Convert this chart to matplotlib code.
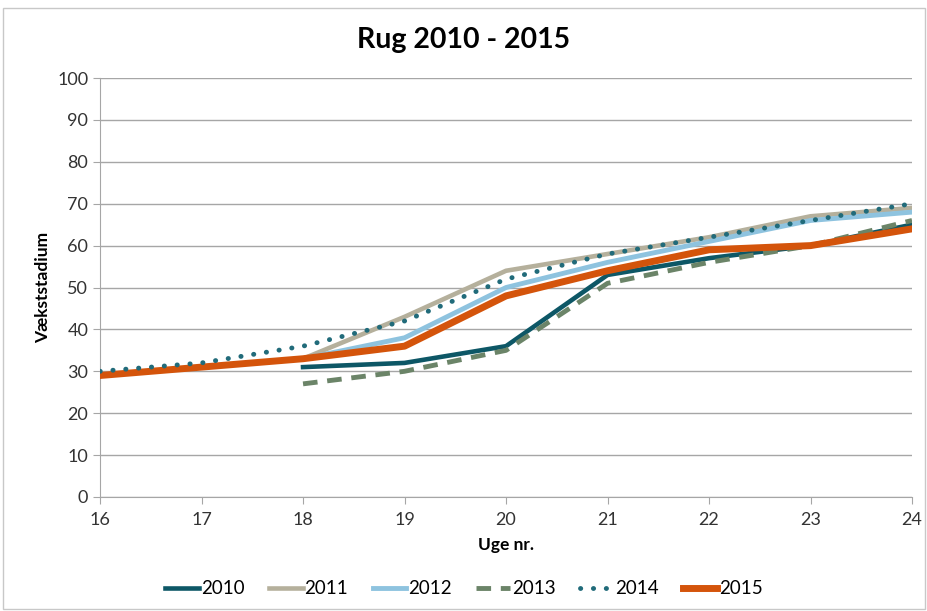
import matplotlib.pyplot as plt

plt.rcParams['font.family'] = ['Lato', 'DejaVu Sans']

weeks = [16, 17, 18, 19, 20, 21, 22, 23, 24]
weeks_late = [18, 19, 20, 21, 22, 23, 24]

y2010 = [31, 32, 36, 53, 57, 60, 65]
y2011 = [33, 43, 54, 58, 62, 67, 69]
y2012 = [33, 38, 50, 56, 61, 66, 68]
y2013 = [27, 30, 35, 51, 56, 60, 66]
y2014 = [30, 32, 36, 42, 52, 58, 62, 66, 70]
y2015 = [29, 31, 33, 36, 48, 54, 59, 60, 64]

fig = plt.figure(figsize=(9.28, 6.11), dpi=100)
ax = fig.add_axes([0.1078, 0.1866, 0.875, 0.6857])

ax.plot(weeks_late, y2010, color='#0d5766', lw=3.3, label='2010', zorder=3)
ax.plot(weeks_late, y2011, color='#b5b09c', lw=3.3, label='2011', zorder=2)
ax.plot(weeks_late, y2012, color='#8ec3df', lw=3.5, label='2012', zorder=2)
ax.plot(weeks_late, y2013, color='#6b8468', lw=3.5, ls=(0, (3, 2)), label='2013', zorder=3)
ax.plot(weeks, y2014, color='#216b7a', lw=3.5, ls=(0, (0.05, 2.6)), dash_capstyle='round', label='2014', zorder=4)
ax.plot(weeks, y2015, color='#d4540b', lw=5, label='2015', zorder=3)

ax.set_xlim(16, 24)
ax.set_ylim(0, 100)
ax.set_xticks(range(16, 25))
ax.set_yticks(range(0, 101, 10))
ax.grid(axis='y', color='#a6a6a6', lw=1)
ax.set_axisbelow(True)
for s in ['top', 'right']:
    ax.spines[s].set_visible(False)
ax.spines['left'].set_color('#a6a6a6')
ax.spines['bottom'].set_color('#a6a6a6')
ax.tick_params(colors='#a6a6a6', labelcolor='#333333', labelsize=13, length=5)
ax.tick_params(axis='x', pad=6)

ax.set_xlabel('Uge nr.', fontsize=12.5, fontweight='bold', labelpad=6)
ax.set_ylabel('Vækststadium', fontsize=12.5, fontweight='bold')
fig.suptitle('Rug 2010 - 2015', fontsize=20.5, fontweight='bold', y=0.955)

fig.legend(loc='lower center', ncol=6, frameon=False, fontsize=13.5,
           bbox_to_anchor=(0.5, -0.005), handlelength=1.8, columnspacing=1.3,
           handletextpad=0.1)

fig.patches.append(plt.Rectangle((0.003, 0.003), 0.994, 0.984, transform=fig.transFigure,
                                 fill=False, edgecolor='#c8c8c8', lw=1))

fig.savefig('out.png', dpi=100)
